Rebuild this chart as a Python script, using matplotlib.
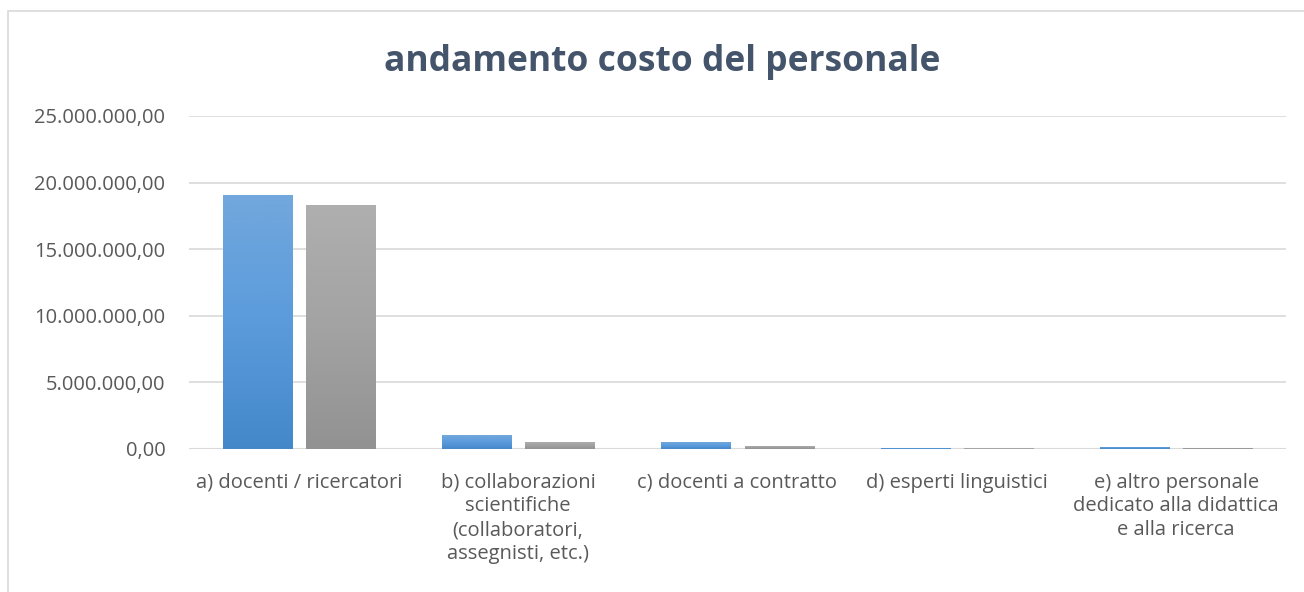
import numpy as np
import matplotlib
matplotlib.use("Agg")
import matplotlib.pyplot as plt
from matplotlib.patches import Rectangle
from matplotlib.colors import LinearSegmentedColormap
from matplotlib.ticker import FuncFormatter

categories = [
    "a) docenti / ricercatori",
    "b) collaborazioni\nscientifiche\n(collaboratori,\nassegnisti, etc.)",
    "c) docenti a contratto",
    "d) esperti linguistici",
    "e) altro personale\ndedicato alla didattica\ne alla ricerca",
]
serie_1 = [19070000, 1050000, 520000, 80000, 160000]
serie_2 = [18300000, 530000, 230000, 60000, 80000]

plt.rcParams['font.family'] = ['Open Sans', 'DejaVu Sans']

fig = plt.figure(figsize=(13.04, 5.92), dpi=100)
ax = fig.add_axes([0.145, 0.2416, 0.841, 0.5625])

x = np.arange(len(categories))
w = 0.315
off = 0.19

blue = LinearSegmentedColormap.from_list("b", ["#4488CA", "#5B9BDC", "#72A8DC"])
grey = LinearSegmentedColormap.from_list("g", ["#929292", "#A3A3A3", "#AFAFAF"])
grad = np.linspace(0, 1, 256).reshape(-1, 1)


def gradient_bars(xs, vals, cmap, base):
    bars = ax.bar(xs, vals, width=w, color=base, linewidth=0, zorder=3)
    for b in bars:
        x0, y0 = b.get_x(), b.get_y()
        im = ax.imshow(grad, cmap=cmap, aspect="auto", origin="lower",
                       extent=[x0, x0 + b.get_width(), y0, y0 + b.get_height()],
                       zorder=3)
        im.set_clip_path(b)


gradient_bars(x - off, serie_1, blue, "#5B9BD5")
gradient_bars(x + off, serie_2, grey, "#A5A5A5")

ax.set_xlim(-0.5, len(categories) - 0.5)
ax.set_ylim(0, 25000000)
ax.set_yticks(np.arange(0, 25000001, 5000000))
ax.yaxis.set_major_formatter(FuncFormatter(
    lambda v, p: f"{v:,.2f}".replace(",", "X").replace(".", ",").replace("X", ".")))
ax.grid(axis="y", color="#D9D9D9", linewidth=1.2, zorder=0)
for s in ax.spines.values():
    s.set_visible(False)
ax.axhline(0, color="#D9D9D9", linewidth=1.5, zorder=2)
ax.tick_params(axis="both", length=0, labelsize=14.5, colors="#595959")
ax.set_xticks(x)
ax.set_xticklabels(categories, linespacing=1.25, va="top")
ax.xaxis.set_tick_params(pad=17)
ax.yaxis.set_tick_params(pad=17)

fig.text(0.508, 0.895, "andamento costo del personale", ha="center", va="center",
         fontsize=25.5, fontweight="bold", color="#44546A")

fig.patches.append(Rectangle((8 / 1304, -0.1), 1.2, 1.1 - 11 / 592,
                             transform=fig.transFigure, fill=False,
                             edgecolor="#D9D9D9", linewidth=1.2))

fig.savefig("out.png", dpi=100)
